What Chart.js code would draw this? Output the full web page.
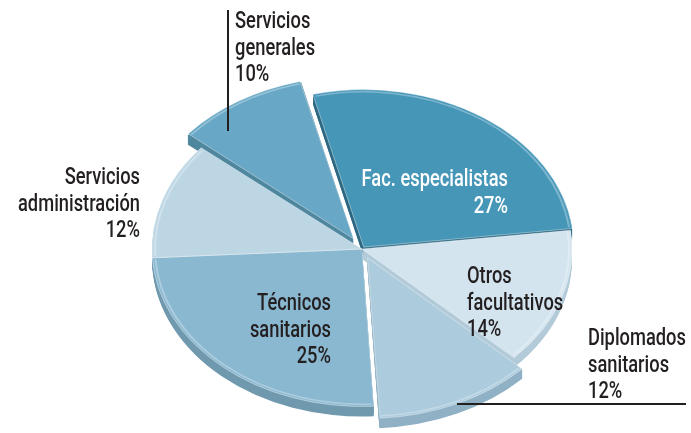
<!DOCTYPE html>
<html>
<head>
<meta charset="utf-8">
<script src="https://cdn.jsdelivr.net/npm/chart.js@4"></script>
<style>
  html, body { margin: 0; padding: 0; background: #fff; }
  #wrap { width: 691px; height: 433px; position: relative; }
</style>
</head>
<body>
<div id="wrap"><canvas id="pieChart"></canvas></div>
<script>
// Data
const categories = [
  "Fac. especialistas",
  "Otros facultativos",
  "Diplomados sanitarios",
  "Técnicos sanitarios",
  "Servicios administración",
  "Servicios generales",
];
const shares = [27, 14, 12, 25, 12, 10];
const labelLines = [
  ["Fac. especialistas"],
  ["Otros", "facultativos"],
  ["Diplomados", "sanitarios"],
  ["Técnicos", "sanitarios"],
  ["Servicios", "administración"],
  ["Servicios", "generales"],
];

// Look
const topColors = ["#4696b8", "#d3e4ee", "#accbdd", "#8ab8d0", "#bdd6e4", "#68a8c6"];
const sideColors = ["#2e6a83", "#b3cbd9", "#90b1c5", "#7099ae", "#a0bccd", "#4f879f"];
const squash = 0.75;
const centerY = 249;
const depth = 10;
const FONT = "500 23px Roboto, 'DejaVu Sans', sans-serif";

function wedge(ctx, arc, dy, shrink) {
  const p = arc.getProps(["x", "y", "startAngle", "endAngle", "outerRadius", "circumference"], true);
  const off = (arc.options.offset || 0) / 4;
  const mid = (p.startAngle + p.endAngle) / 2;
  const fix = 1 - Math.sin(Math.min(Math.PI, p.circumference || 0));
  const x = p.x + Math.cos(mid) * off;
  const y = p.y + Math.sin(mid) * off + dy;
  const r = p.outerRadius + off * fix - (shrink || 0);
  if (shrink) {
    ctx.beginPath();
    ctx.arc(x, y, r, p.startAngle + 0.01, p.endAngle - 0.01);
    return;
  }
  ctx.beginPath();
  ctx.moveTo(x, y);
  ctx.arc(x, y, r, p.startAngle, p.endAngle);
  ctx.closePath();
}

// squash the pie into an ellipse and give it some thickness
const tiltPlugin = {
  id: "tilt",
  beforeDatasetsDraw(chart) {
    const ctx = chart.ctx;
    const arcs = chart.getDatasetMeta(0).data;
    const cy0 = arcs[0].y;
    ctx.save();
    ctx.translate(0, centerY);
    ctx.scale(1, squash);
    ctx.translate(0, -cy0);
    for (let k = depth; k >= 1; k--) {
      arcs.forEach((arc, i) => {
        wedge(ctx, arc, k / squash);
        ctx.fillStyle = sideColors[i];
        ctx.fill();
      });
    }
  },
  afterDatasetsDraw(chart) {
    const ctx = chart.ctx;
    // light bevel along the rim of each slice
    chart.getDatasetMeta(0).data.forEach((arc) => {
      wedge(ctx, arc, 0, 3);
      ctx.strokeStyle = "rgba(255,255,255,0.3)";
      ctx.lineWidth = 2;
      ctx.stroke();
    });
    ctx.restore();
  },
};

// text labels + leader lines
const labelPos = [
  { x: 508, y: 186, align: "right", color: "#ffffff" },
  { x: 467, y: 283, align: "left", color: "#231f20" },
  { x: 588, y: 345, align: "left", color: "#231f20" },
  { x: 331, y: 310, align: "right", color: "#231f20" },
  { x: 140, y: 184, align: "right", color: "#231f20" },
  { x: 235, y: 28, align: "left", color: "#231f20" },
];

const labelPlugin = {
  id: "labels",
  afterDraw(chart) {
    const ctx = chart.ctx;
    ctx.save();
    ctx.strokeStyle = "#231f20";
    ctx.lineWidth = 2;
    ctx.beginPath();
    ctx.moveTo(228, 10);
    ctx.lineTo(228, 131);
    ctx.moveTo(457, 404);
    ctx.lineTo(686, 404);
    ctx.stroke();

    ctx.font = FONT;
    ctx.textBaseline = "alphabetic";
    // condensed look: squeeze text so "administración" is ~122px wide
    const sx = 122 / ctx.measureText("administración").width;
    labelLines.forEach((lines, i) => {
      const pos = labelPos[i];
      ctx.fillStyle = pos.color;
      ctx.textAlign = pos.align;
      const all = lines.concat([shares[i] + "%"]);
      all.forEach((t, j) => {
        ctx.save();
        ctx.translate(pos.x, pos.y + j * 26.7);
        ctx.scale(sx, 1);
        ctx.fillText(t, 0, 0);
        ctx.restore();
      });
    });
    ctx.restore();
  },
};

new Chart(document.getElementById("pieChart"), {
  type: "pie",
  data: {
    labels: categories,
    datasets: [
      {
        data: shares,
        backgroundColor: topColors,
        borderColor: "rgba(255,255,255,0.45)",
        borderWidth: 1,
        offset: [12, 0, 52, 0, 0, 64],
      },
    ],
  },
  options: {
    responsive: true,
    maintainAspectRatio: false,
    animation: false,
    rotation: -14,
    radius: 210,
    layout: { padding: { left: 33, right: 0, top: 0, bottom: 0 } },
    events: [],
    plugins: {
      legend: { display: false },
      tooltip: { enabled: false },
    },
  },
  plugins: [tiltPlugin, labelPlugin],
});
</script>
</body>
</html>
